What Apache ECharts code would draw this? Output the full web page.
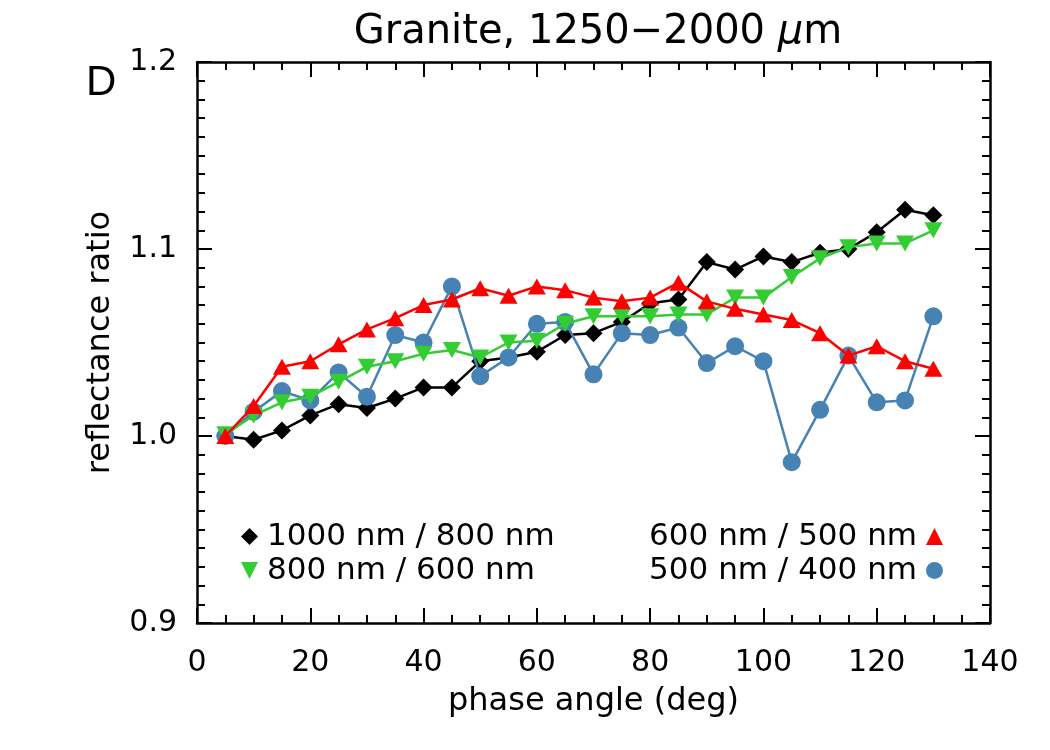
<!DOCTYPE html>
<html>
<head>
<meta charset="utf-8">
<script src="https://cdn.jsdelivr.net/npm/echarts@6/dist/echarts.min.js"></script>
<style>html,body{margin:0;padding:0;background:#fff}#c{width:1050px;height:750px}</style>
</head>
<body>
<div id="c"></div>
<script>
const phaseAngles = [5,10,15,20,25,30,35,40,45,50,55,60,65,70,75,80,85,90,95,100,105,110,115,120,125,130];
const ratio1000_800 = [1.000,0.998,1.003,1.011,1.017,1.015,1.020,1.026,1.026,1.040,1.042,1.045,1.054,1.055,1.061,1.071,1.073,1.093,1.089,1.096,1.093,1.098,1.100,1.109,1.121,1.118];
const ratio800_600 = [1.001,1.011,1.018,1.021,1.029,1.037,1.040,1.044,1.046,1.042,1.050,1.051,1.060,1.064,1.064,1.064,1.065,1.065,1.074,1.074,1.085,1.095,1.101,1.103,1.103,1.110];
const ratio600_500 = [1.000,1.016,1.037,1.040,1.049,1.057,1.063,1.070,1.073,1.079,1.075,1.080,1.078,1.074,1.072,1.074,1.082,1.072,1.068,1.065,1.062,1.055,1.043,1.048,1.040,1.036];
const ratio500_400 = [1.000,1.013,1.024,1.019,1.034,1.021,1.054,1.050,1.080,1.032,1.042,1.060,1.061,1.033,1.055,1.054,1.058,1.039,1.048,1.040,0.986,1.014,1.043,1.018,1.019,1.064];
const seriesNames = ['1000 nm / 800 nm','800 nm / 600 nm','600 nm / 500 nm','500 nm / 400 nm'];
const xTicks = [0,20,40,60,80,100,120,140];
const yTicks = [0.9,1.0,1.1,1.2];

const FONT = 'DejaVu Sans';
const pair = (arr) => phaseAngles.map((x,i)=>[x,arr[i]]);

function xAx(pos, showLabel){
  return {type:'value', position:pos, min:0, max:140, interval:20,
    axisLine:{show:true,onZero:false,lineStyle:{color:'#000',width:2.5}},
    axisTick:{show:true,inside:true,length:15,lineStyle:{color:'#000',width:2}},
    minorTick:{show:true,splitNumber:4,length:8,lineStyle:{color:'#000',width:2}},
    splitLine:{show:false},
    axisLabel:{show:showLabel,margin:25,color:'#000',fontFamily:FONT,fontSize:30,
      formatter:v=>xTicks.includes(v)?String(v):''},
    name: showLabel?'phase angle (deg)':'', nameLocation:'middle', nameGap:63,
    nameTextStyle:{color:'#000',fontFamily:FONT,fontSize:32}
  };
}
function yAx(pos, showLabel){
  return {type:'value', position:pos, min:0.9, max:1.2, interval:0.1,
    axisLine:{show:true,onZero:false,lineStyle:{color:'#000',width:2.5}},
    axisTick:{show:true,inside:true,length:15,lineStyle:{color:'#000',width:2}},
    minorTick:{show:true,splitNumber:10,length:8,lineStyle:{color:'#000',width:2}},
    splitLine:{show:false},
    axisLabel:{show:showLabel,margin:20,color:'#000',fontFamily:FONT,fontSize:30,
      formatter:v=>{const t=yTicks.find(y=>Math.abs(y-v)<1e-6);return t!==undefined?t.toFixed(1):'';}},
    name: showLabel?'reflectance ratio':'', nameLocation:'middle', nameGap:80,
    nameTextStyle:{color:'#000',fontFamily:FONT,fontSize:32}
  };
}

const chart = echarts.init(document.getElementById('c'), null, {renderer:'canvas'});
chart.setOption({
  backgroundColor:'#fff',
  animation:false,
  title:{
    text:'{a|Granite, 1250−2000 }{mu|μ}{a|m}',
    left:593, top:8, textAlign:'center',
    textStyle:{fontWeight:'normal',rich:{
      a:{fontFamily:FONT,fontSize:40,fontWeight:'normal',color:'#000'},
      mu:{fontFamily:FONT,fontSize:40,fontWeight:'normal',fontStyle:'italic',color:'#000'}
    }}
  },
  graphic:[{type:'text',left:86,top:62,style:{text:'D',font:'42px "Liberation Sans"',fill:'#000'}}],
  grid:{left:197,right:60,top:62,bottom:127},
  xAxis:[xAx('bottom',true), xAx('top',false)],
  yAxis:[yAx('left',true), yAx('right',false)],
  legend:[
    {orient:'vertical',left:236,top:516,itemGap:3,itemWidth:17,itemHeight:17,
     textStyle:{fontFamily:FONT,fontSize:31,color:'#000',lineHeight:31,padding:[0,0,0,4]},
     data:[{name:seriesNames[0],icon:'diamond'},{name:seriesNames[1],icon:'path://M0,0L10,0L5,10Z'}]},
    {orient:'vertical',right:102,top:516,align:'right',itemGap:3,itemWidth:17,itemHeight:17,
     textStyle:{fontFamily:FONT,fontSize:31,color:'#000',lineHeight:31,padding:[0,4,0,0]},
     data:[{name:seriesNames[2],icon:'triangle'},{name:seriesNames[3],icon:'circle'}]}
  ],
  series:[
    {name:seriesNames[0],type:'line',data:pair(ratio1000_800),symbol:'diamond',symbolSize:18,
     itemStyle:{color:'#000'},lineStyle:{color:'#000',width:2.5},z:2},
    {name:seriesNames[3],type:'line',data:pair(ratio500_400),symbol:'circle',symbolSize:18,
     itemStyle:{color:'#4682b4'},lineStyle:{color:'#4682b4',width:2.5},z:3},
    {name:seriesNames[1],type:'line',data:pair(ratio800_600),symbol:'path://M0,0L10,0L5,10Z',symbolSize:[18,16],
     itemStyle:{color:'#33cc33'},lineStyle:{color:'#33cc33',width:2.5},z:4},
    {name:seriesNames[2],type:'line',data:pair(ratio600_500),symbol:'triangle',symbolSize:[18,16],
     itemStyle:{color:'#ff0000'},lineStyle:{color:'#ff0000',width:2.5},z:5}
  ]
});
</script>
</body>
</html>
